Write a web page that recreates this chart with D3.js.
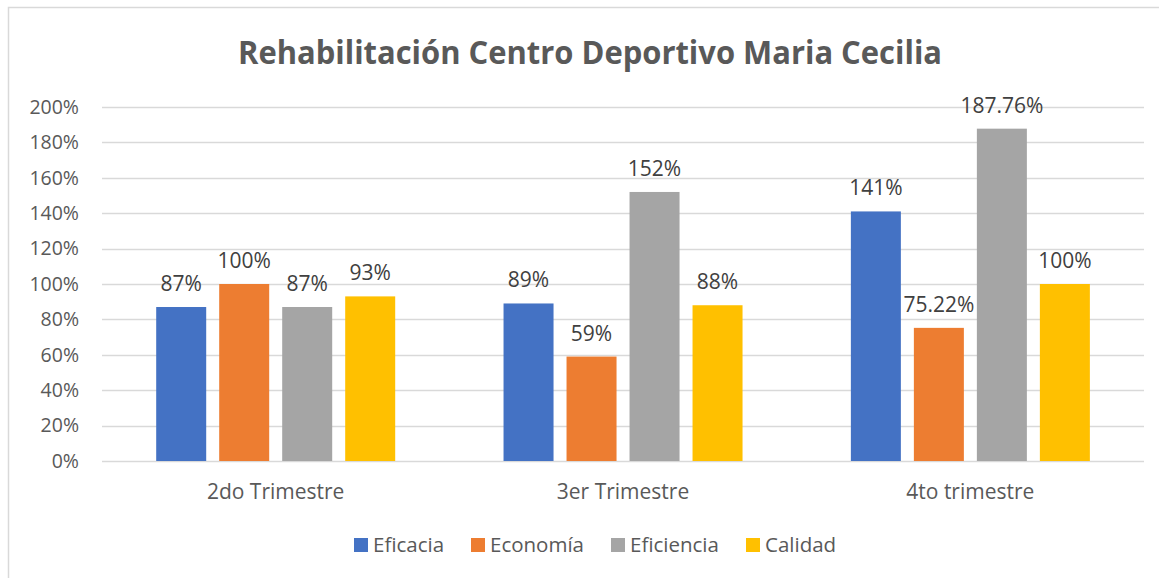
<!DOCTYPE html>
<html>
<head>
<meta charset="utf-8">
<script src="https://cdn.jsdelivr.net/npm/d3@7"></script>
<style>
  body { margin: 0; background: #fff; }
  svg text { font-family: "Open Sans", sans-serif; }
</style>
</head>
<body>
<div id="chart"></div>
<script>
const title = "Rehabilitación Centro Deportivo Maria Cecilia";
const categories = ["2do Trimestre", "3er Trimestre", "4to trimestre"];
const series = ["Eficacia", "Economía", "Eficiencia", "Calidad"];
const eficacia = [0.87, 0.89, 1.41];
const economia = [1.00, 0.59, 0.7522];
const eficiencia = [0.87, 1.52, 1.8776];
const calidad = [0.93, 0.88, 1.00];
const eficaciaLabels = ["87%", "89%", "141%"];
const economiaLabels = ["100%", "59%", "75.22%"];
const eficienciaLabels = ["87%", "152%", "187.76%"];
const calidadLabels = ["93%", "88%", "100%"];
const yTicks = [0, 0.2, 0.4, 0.6, 0.8, 1.0, 1.2, 1.4, 1.6, 1.8, 2.0];

const colors = { "Eficacia": "#4472C4", "Economía": "#ED7D31", "Eficiencia": "#A5A5A5", "Calidad": "#FFC000" };
const seriesValues = [eficacia, economia, eficiencia, calidad];
const seriesLabels = [eficaciaLabels, economiaLabels, eficienciaLabels, calidadLabels];

const width = 1159, height = 578;
const plot = { left: 102, right: 1144, top: 107, bottom: 461 };

const svg = d3.select("#chart").append("svg")
    .attr("width", width).attr("height", height);

// chart frame (runs off the right / bottom edge like the screenshot)
svg.append("rect")
    .attr("x", 8.5).attr("y", 7.5)
    .attr("width", 1170).attr("height", 600)
    .attr("fill", "#fff").attr("stroke", "#d9d9d9").attr("stroke-width", 1.5);

const y = d3.scaleLinear().domain([0, 2]).range([plot.bottom, plot.top]);
const x0 = d3.scaleBand().domain(categories).range([plot.left, plot.right]);
const x1 = d3.scaleBand().domain(series).range([54.2, 293.2]).paddingInner(13 / 63);

// gridlines
svg.append("g").selectAll("line")
    .data(yTicks).enter().append("line")
    .attr("x1", plot.left).attr("x2", plot.right)
    .attr("y1", d => Math.round(y(d)) + 0.5).attr("y2", d => Math.round(y(d)) + 0.5)
    .attr("stroke", "#d9d9d9").attr("stroke-width", 1.3);

// y tick labels
svg.append("g").selectAll("text")
    .data(yTicks).enter().append("text")
    .attr("x", 79).attr("y", d => y(d))
    .attr("dy", "0.35em")
    .attr("text-anchor", "end")
    .attr("font-size", 19.5)
    .attr("fill", "#595959")
    .text(d => d3.format(".0%")(d));

// bars
const rows = [];
series.forEach((s, si) => {
    categories.forEach((c, ci) => {
        rows.push({ series: s, cat: c, value: seriesValues[si][ci], label: seriesLabels[si][ci] });
    });
});

svg.append("g").selectAll("rect")
    .data(rows).enter().append("rect")
    .attr("x", d => x0(d.cat) + x1(d.series))
    .attr("y", d => y(d.value))
    .attr("width", x1.bandwidth())
    .attr("height", d => y(0) - y(d.value))
    .attr("fill", d => colors[d.series]);

// data labels
svg.append("g").selectAll("text")
    .data(rows).enter().append("text")
    .attr("x", d => x0(d.cat) + x1(d.series) + x1.bandwidth() / 2)
    .attr("y", d => y(d.value) - 16)
    .attr("text-anchor", "middle")
    .attr("font-size", 21)
    .attr("fill", "#404040")
    .text(d => d.label);

// category labels
svg.append("g").selectAll("text")
    .data(categories).enter().append("text")
    .attr("x", d => x0(d) + x0.bandwidth() / 2)
    .attr("y", 499)
    .attr("text-anchor", "middle")
    .attr("font-size", 21)
    .attr("fill", "#595959")
    .text(d => d);

// title
svg.append("text")
    .attr("x", 590).attr("y", 64)
    .attr("text-anchor", "middle")
    .attr("font-size", 32)
    .attr("font-weight", "bold")
    .attr("fill", "#595959")
    .attr("textLength", 704)
    .attr("lengthAdjust", "spacingAndGlyphs")
    .text(title);

// legend
const legendX = [354, 471, 611, 746];
const legend = svg.append("g").selectAll("g")
    .data(series).enter().append("g")
    .attr("transform", (d, i) => `translate(${legendX[i]},538)`);
legend.append("rect")
    .attr("width", 14).attr("height", 14)
    .attr("fill", d => colors[d]);
legend.append("text")
    .attr("x", 19).attr("y", 14)
    .attr("font-size", 20.5)
    .attr("fill", "#595959")
    .text(d => d);
</script>
</body>
</html>
